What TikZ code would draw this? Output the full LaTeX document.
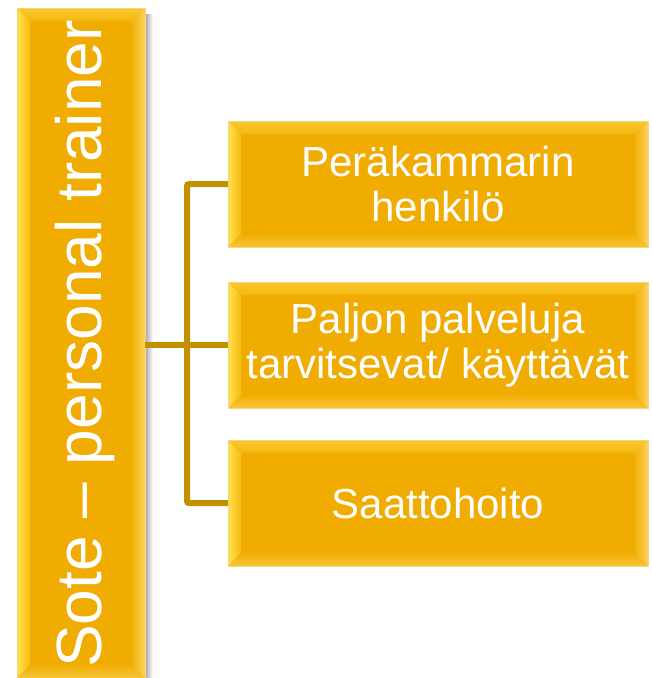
\documentclass[tikz,border=0pt]{standalone}
\usepackage{fontspec}
\setmainfont{Liberation Sans}
\usetikzlibrary{calc}
\definecolor{gold}{HTML}{F0AC00}
\definecolor{goldedge}{HTML}{F6D487}
\definecolor{linkgold}{HTML}{C39000}
\definecolor{bevtopA}{HTML}{FBC82C}
\definecolor{bevtopB}{HTML}{F4B610}
\definecolor{bevleftA}{HTML}{FFE24A}
\definecolor{bevleftB}{HTML}{F8BA14}
\definecolor{bevrightA}{HTML}{F2B20A}
\definecolor{bevrightB}{HTML}{FCD45A}
\definecolor{bevbotA}{HTML}{F1AE02}
\definecolor{bevbotB}{HTML}{F8C63A}

\tikzset{
  tile/.style={fill=gold, draw=goldedge, line width=0.8pt, inner sep=0pt, outer sep=0pt},
  caption/.style={text=white, font=\fontsize{42}{45}\selectfont, align=center, inner sep=0pt},
  rootcaption/.style={text=white, font=\fontsize{64}{70}\selectfont, inner sep=0pt, rotate=90, anchor=base},
  link/.style={draw=linkgold, line width=6pt, rounded corners=2pt}
}

% bevelled rim on a tile: #1 node name, #2 rim width
\newcommand\bevelrim[2]{%
  \shade[top color=bevtopA, bottom color=bevtopB]
    (#1.north west) -- (#1.north east) -- ($(#1.north east)+(-#2,#2)$) -- ($(#1.north west)+(#2,#2)$) -- cycle;
  \shade[left color=bevleftA, right color=bevleftB]
    (#1.north west) -- ($(#1.north west)+(#2,#2)$) -- ($(#1.south west)+(#2,-#2)$) -- (#1.south west) -- cycle;
  \shade[left color=bevrightA, right color=bevrightB]
    (#1.north east) -- (#1.south east) -- ($(#1.south east)+(-#2,-#2)$) -- ($(#1.north east)+(-#2,#2)$) -- cycle;
  \shade[top color=bevbotA, bottom color=bevbotB]
    (#1.south west) -- ($(#1.south west)+(#2,-#2)$) -- ($(#1.south east)+(-#2,-#2)$) -- (#1.south east) -- cycle;
  \draw[goldedge, line width=0.8pt] (#1.north west) rectangle (#1.south east);
}

\begin{document}
\begin{tikzpicture}[x=1pt, y=-1pt]
\useasboundingbox (0,0) rectangle (652,678);

% soft shadow along the right side of the vertical tile
\shade[left color=black!35, right color=white] (145,14) rectangle (153,678);

% tiles
\node[tile, minimum width=128pt, minimum height=670pt] (root) at (81,343) {};
\node[tile, minimum width=420pt, minimum height=126pt] (box1) at (438,184) {};
\node[tile, minimum width=420pt, minimum height=126pt] (box2) at (438,345) {};
\node[tile, minimum width=420pt, minimum height=126pt] (box3) at (438,503) {};

\bevelrim{root}{13}
\bevelrim{box1}{13}
\bevelrim{box2}{13}
\bevelrim{box3}{13}

% captions
\node[rootcaption] (rootlabel) at (101,344) {Sote – personal trainer};
\node[caption] (label1) at (box1) {Peräkammarin\\henkilö};
\node[caption] (label2) at (box2) {Paljon palveluja\\tarvitsevat/ käyttävät};
\node[caption] (label3) at (box3) {Saattohoito};

% connectors
\coordinate (spine) at (187,0);
\draw[link] (root.east |- box2.west) -- (box2.west);
\draw[link] (box1.west) -- (box1.west -| spine) -- (box3.west -| spine) -- (box3.west);
\end{tikzpicture}
\end{document}
